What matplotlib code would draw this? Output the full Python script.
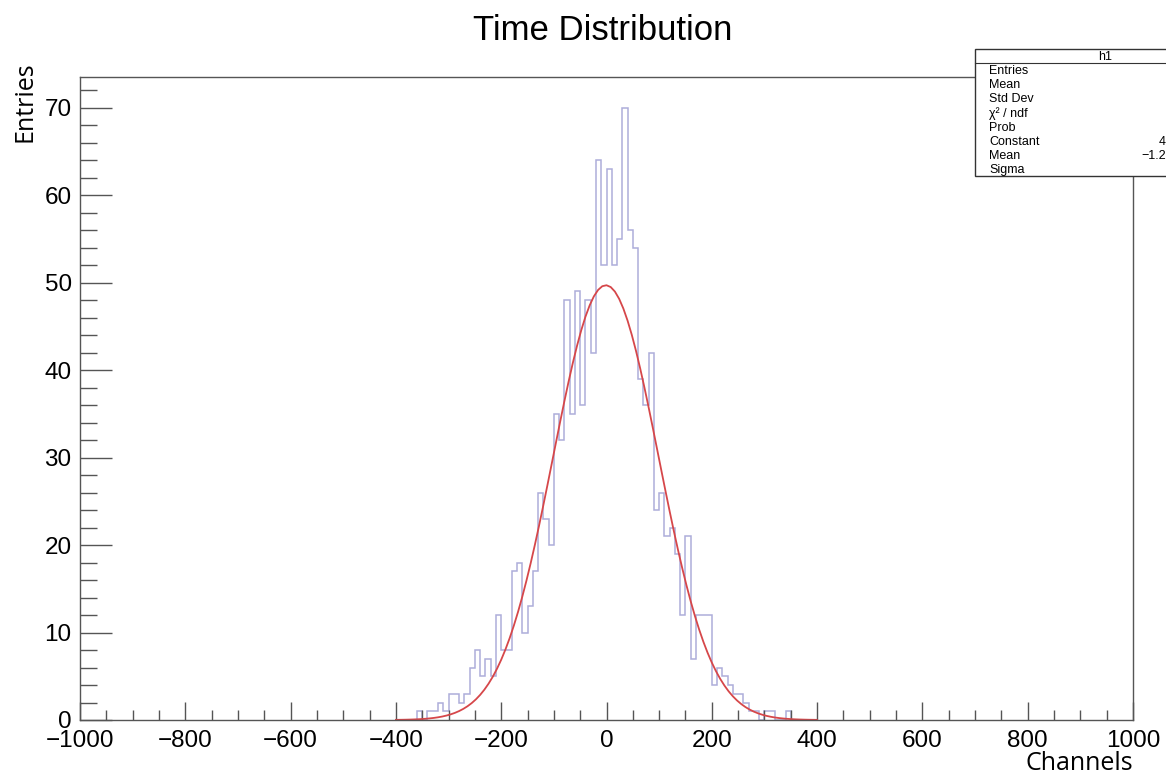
import numpy as np
import matplotlib.pyplot as plt
from matplotlib.patches import Rectangle
from matplotlib.lines import Line2D
from matplotlib.ticker import MultipleLocator

# h1 contents, 10 channel bins starting at -360
bin_start = -360
bin_width = 10
counts = [1, 0, 1, 1, 2, 1, 3, 3, 2, 3,
          6, 8, 5, 7, 5, 12, 8, 8, 17, 18,
          10, 13, 17, 26, 23, 20, 35, 32, 48, 35,
          49, 36, 48, 42, 64, 52, 63, 52, 55, 70,
          56, 54, 39, 36, 42, 24, 26, 21, 22, 19,
          12, 21, 7, 12, 12, 12, 4, 6, 5, 4,
          3, 3, 2, 1, 1, 0, 1, 1, 0, 0, 1, 0]

# gaus fit parameters
fit_constant = 49.7
fit_mean = -1.2
fit_sigma = 100.0
fit_range = (-400, 400)

# stats box (right part is cut off in the original)
stat_names = ["Entries", "Mean", "Std Dev", "χ² / ndf", "Prob",
              "Constant", "Mean", "Sigma"]
stat_values = ["", "", "", "", "", "4", "−1.2", ""]

W, H = 1166, 781


def fx(px):
    return px / W


def fy(py):
    return 1 - py / H


fig = plt.figure(figsize=(W / 100, H / 100), dpi=100)
ax = fig.add_axes([fx(80), fy(720), fx(1133) - fx(80), fy(77) - fy(720)])

edges = bin_start + bin_width * np.arange(len(counts) + 1)
ax.stairs(counts, edges, baseline=0, color='#adadda', lw=1.1)

xf = np.linspace(fit_range[0], fit_range[1], 101)
yf = fit_constant * np.exp(-0.5 * ((xf - fit_mean) / fit_sigma) ** 2)
ax.plot(xf, yf, color='#d6474a', lw=1.3)

ax.set_xlim(-1000, 1000)
ax.set_ylim(0, 73.5)
ax.xaxis.set_major_locator(MultipleLocator(200))
ax.xaxis.set_minor_locator(MultipleLocator(50))
ax.yaxis.set_major_locator(MultipleLocator(10))
ax.yaxis.set_minor_locator(MultipleLocator(2))

for s in ax.spines.values():
    s.set_color('#555555')
    s.set_linewidth(1.0)

ax.tick_params(axis='x', which='major', direction='in', length=13, width=1,
               color='#555555', labelsize=17.5, pad=7)
ax.tick_params(axis='x', which='minor', direction='in', length=7, width=1,
               color='#555555')
ax.tick_params(axis='y', which='major', direction='in', length=23, width=1,
               color='#555555', labelsize=17.5, pad=6)
ax.tick_params(axis='y', which='minor', direction='in', length=12, width=1,
               color='#555555')
for lab in ax.get_xticklabels() + ax.get_yticklabels():
    lab.set_family('Liberation Sans')

fig.text(fx(603), fy(30), "Time Distribution", ha='center', va='center',
         fontsize=25, family='Liberation Sans')
fig.text(fx(1133), fy(764), "Channels", ha='right', va='center',
         fontsize=18, family='Open Sans')
fig.text(fx(25), fy(61), "Entries", ha='center', va='top', rotation=90,
         fontsize=18, family='Open Sans')

# stats box
box_left, box_top, box_bottom, box_right = 975, 49, 176, 1236
fig.add_artist(Rectangle((fx(box_left), fy(box_bottom)),
                         fx(box_right) - fx(box_left),
                         fy(box_top) - fy(box_bottom),
                         transform=fig.transFigure, facecolor='white',
                         edgecolor='#333333', lw=1.0, zorder=5))
fig.add_artist(Line2D([fx(box_left), fx(box_right)], [fy(63), fy(63)],
                      transform=fig.transFigure, color='#333333', lw=0.8,
                      zorder=6))
fig.text(fx(1105), fy(57), "h1", ha='center', va='center', fontsize=9,
         family='Liberation Sans', zorder=7)
for i, (name, val) in enumerate(zip(stat_names, stat_values)):
    y = fy(71 + i * 14.2)
    fig.text(fx(989), y, name, ha='left', va='center', fontsize=9,
             family='Liberation Sans', zorder=7)
    if val:
        fig.text(fx(1166), y, val, ha='right', va='center', fontsize=9,
                 family='Liberation Sans', zorder=7)

fig.savefig('out.png', dpi=100)
